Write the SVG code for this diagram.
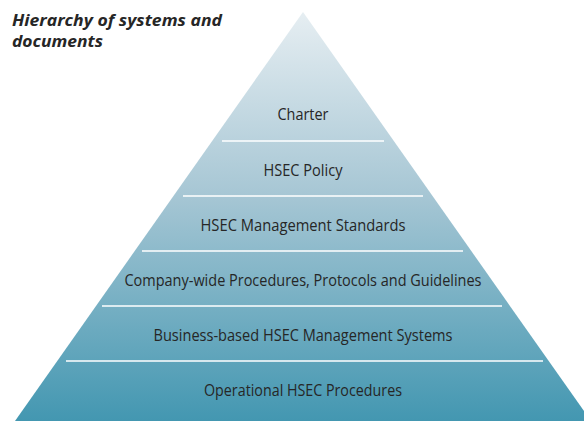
<svg xmlns="http://www.w3.org/2000/svg" width="584" height="421" viewBox="0 0 584 421">
<defs>
<linearGradient id="g" x1="0" y1="12" x2="0" y2="421" gradientUnits="userSpaceOnUse">
<stop offset="0" stop-color="#e6eef2"/>
<stop offset="0.45" stop-color="#a6c6d4"/>
<stop offset="1" stop-color="#4397b1"/>
</linearGradient>
<style>
.lbl{font-family:"Open Sans","Liberation Sans",sans-serif;font-size:17px;fill:#262626;text-anchor:middle}
.div{stroke:#ffffff;stroke-width:1.3}
.title{font-family:"Open Sans","Liberation Sans",sans-serif;font-size:16.5px;font-weight:bold;font-style:italic;fill:#262626}
</style>
</defs>
<rect width="584" height="421" fill="#ffffff"/>
<g id="title">
<text class="title" x="12" y="26" textLength="210" lengthAdjust="spacingAndGlyphs">Hierarchy of systems and</text>
<text class="title" x="12" y="47" textLength="91" lengthAdjust="spacingAndGlyphs">documents</text>
</g>
<g id="pyramid">
<polygon points="303,12 15,421 591,421" fill="url(#g)"/>
</g>
<g id="connectors">
<line class="div" x1="222" y1="141" x2="384" y2="141"/>
<line class="div" x1="183" y1="196" x2="423" y2="196"/>
<line class="div" x1="142" y1="251" x2="463" y2="251"/>
<line class="div" x1="102" y1="306" x2="502" y2="306"/>
<line class="div" x1="66" y1="361" x2="543" y2="361"/>
</g>
<g id="charter"><text class="lbl" x="303" y="120" textLength="51" lengthAdjust="spacingAndGlyphs">Charter</text></g>
<g id="policy"><text class="lbl" x="303" y="175.5" textLength="79" lengthAdjust="spacingAndGlyphs">HSEC Policy</text></g>
<g id="standards"><text class="lbl" x="303" y="230.5" textLength="205" lengthAdjust="spacingAndGlyphs">HSEC Management Standards</text></g>
<g id="procedures"><text class="lbl" x="303" y="285.5" textLength="357" lengthAdjust="spacingAndGlyphs">Company-wide Procedures, Protocols and Guidelines</text></g>
<g id="systems"><text class="lbl" x="303" y="340.5" textLength="299" lengthAdjust="spacingAndGlyphs">Business-based HSEC Management Systems</text></g>
<g id="operational"><text class="lbl" x="303" y="395.5" textLength="198" lengthAdjust="spacingAndGlyphs">Operational HSEC Procedures</text></g>
</svg>
